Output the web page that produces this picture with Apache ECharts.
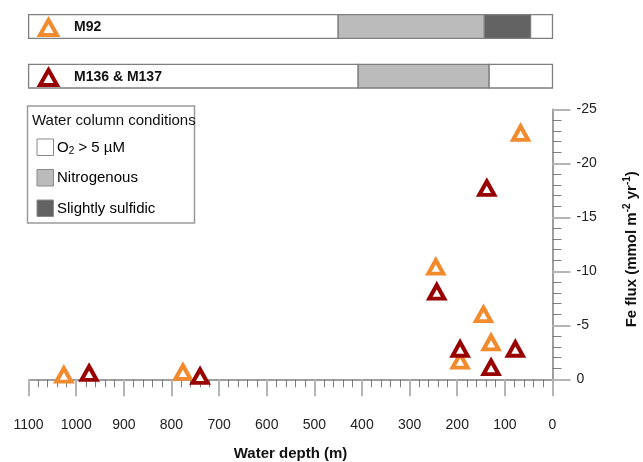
<!DOCTYPE html>
<html>
<head>
<meta charset="utf-8">
<script src="https://cdn.jsdelivr.net/npm/echarts@6/dist/echarts.min.js"></script>
<style>
  html, body { margin: 0; padding: 0; background: #fff; }
  #chart { width: 643px; height: 462px; }
</style>
</head>
<body>
<div id="chart"></div>
<script>
// Benthic Fe flux versus water depth for two cruise campaigns
const m92Depth  = [1026, 776, 67, 245, 145, 129, 194];
const m92Flux   = [-0.40, -0.66, -22.8, -10.4, -6.0, -3.4, -1.7];
const m136Depth = [973, 740, 138, 243, 194, 78, 129];
const m136Flux  = [-0.56, -0.29, -17.7, -8.1, -2.8, -2.8, -1.1];

// Water column redox zones per campaign: [from depth, to depth, condition index]
const conditionNames = ['{t|O}{sub|2}{t| > 5 \u00b5M}', '{t|Nitrogenous}', '{t|Slightly sulfidic}'];
const m92Zones  = [[1100, 450, 0], [450, 143, 1], [143, 46, 2], [46, 0, 0]];
const m136Zones = [[1100, 408, 0], [408, 133, 1], [133, 0, 0]];

// Axis ticks
const depthRange = [0, 1100];
const fluxMajorTicks = [-25, -20, -15, -10, -5, 0];

const ORANGE = '#f28a2e';
const DARKRED = '#990000';
const conditionColors = ['#ffffff', '#bbbbbb', '#636363'];
const FONT = 'Liberation Sans, Arial, sans-serif';

const fluxMinorTicks = [];
for (let v = -25; v <= 0; v++) if (fluxMajorTicks.indexOf(v) < 0) fluxMinorTicks.push(v);

const chart = echarts.init(document.getElementById('chart'), null, { renderer: 'canvas' });

function zoneRenderer(zones) {
  return function (params, api) {
    const z = zones[params.dataIndex];
    const a = api.coord([z[0], 0]);
    const b = api.coord([z[1], 0]);
    const cs = params.coordSys;
    return {
      type: 'rect',
      shape: { x: Math.min(a[0], b[0]), y: cs.y, width: Math.abs(b[0] - a[0]), height: cs.height },
      style: { fill: conditionColors[z[2]], stroke: '#7f7f7f', lineWidth: 1.3 }
    };
  };
}

const plotLeft = 28.6, plotRight = 90.5;

const hiddenX = (gi) => ({
  gridIndex: gi, type: 'value', inverse: true, min: depthRange[0], max: depthRange[1],
  show: false
});
const hiddenY = (gi) => ({ gridIndex: gi, type: 'value', min: 0, max: 1, show: false });

const cruiseLegend = (name, color, top) => ({
  data: [name], left: 38, top: top, padding: 0, selectedMode: false,
  icon: 'triangle', itemWidth: 17, itemHeight: 15,
  itemStyle: { color: '#fff', borderColor: color, borderWidth: 4 },
  textStyle: { fontFamily: FONT, fontSize: 14, fontWeight: 'bold', color: '#111', padding: [0, 0, 0, 12] }
});

const legendRich = {
  t: { fontFamily: FONT, fontSize: 15, color: '#111', lineHeight: 18 },
  sub: { fontFamily: FONT, fontSize: 10, color: '#111', lineHeight: 18, padding: [8, 0, 0, 0] }
};

const option = {
  animation: false,
  backgroundColor: '#fff',
  grid: [
    { left: plotLeft, right: plotRight, top: 109.3, bottom: 72.7, outerBoundsMode: 'none', containLabel: false },
    { left: plotLeft, right: plotRight, top: 14.7, height: 23.7, outerBoundsMode: 'none' },
    { left: plotLeft, right: plotRight, top: 64.3, height: 23.7, outerBoundsMode: 'none' }
  ],
  legend: [
    cruiseLegend('M92', ORANGE, 18),
    cruiseLegend('M136 & M137', DARKRED, 68)
  ],
  xAxis: [
    {
      gridIndex: 0, type: 'value', inverse: true, min: depthRange[0], max: depthRange[1], interval: 100,
      name: 'Water depth (m)', nameLocation: 'middle', nameGap: 57,
      nameTextStyle: { fontFamily: FONT, fontSize: 15, fontWeight: 'bold', color: '#111' },
      axisLine: { show: true, lineStyle: { color: '#7f7f7f', width: 1.5 } },
      axisTick: { show: true, length: 17, lineStyle: { color: '#b5b5b5', width: 2 } },
      minorTick: { show: true, splitNumber: 5, length: 8, lineStyle: { color: '#7f7f7f', width: 1 } },
      splitLine: { show: false },
      axisLabel: { margin: 29, fontFamily: FONT, fontSize: 14, color: '#222', formatter: v => String(v) }
    },
    hiddenX(1),
    hiddenX(2)
  ],
  yAxis: [
    {
      gridIndex: 0, type: 'value', position: 'right', inverse: true, min: -25, max: 0.93,
      name: '{b|Fe flux (mmol m}{s|-2}{b| yr}{s|-1}{b|)}',
      nameLocation: 'middle', nameRotate: 90, nameGap: 70,
      nameTextStyle: {
        rich: {
          b: { fontFamily: FONT, fontSize: 15, fontWeight: 'bold', color: '#111', lineHeight: 18 },
          s: { fontFamily: FONT, fontSize: 10, fontWeight: 'bold', color: '#111', lineHeight: 18, padding: [0, 0, 8, 0] }
        }
      },
      axisLine: { show: true, lineStyle: { color: '#7f7f7f', width: 1.5 } },
      axisTick: { show: true, length: 18, customValues: fluxMajorTicks, lineStyle: { color: '#b5b5b5', width: 2 } },
      splitLine: { show: false },
      axisLabel: { margin: 24, customValues: fluxMajorTicks, fontFamily: FONT, fontSize: 14, color: '#222' }
    },
    {
      gridIndex: 0, type: 'value', position: 'right', inverse: true, min: -25, max: 0.93,
      axisLine: { show: false },
      axisTick: { show: true, length: 9, customValues: fluxMinorTicks, lineStyle: { color: '#7f7f7f', width: 1 } },
      splitLine: { show: false },
      axisLabel: { show: false }
    },
    hiddenY(1),
    hiddenY(2)
  ],
  graphic: [
    { type: 'rect', shape: { x: 27.5, y: 106, width: 167, height: 117 },
      style: { fill: '#fff', stroke: '#9a9a9a', lineWidth: 1.5 }, z: 10 },
    { type: 'text', style: { x: 32, y: 121, text: 'Water column conditions', verticalAlign: 'middle',
      font: '15px ' + FONT, fill: '#111' }, z: 11 }
  ].concat(conditionNames.flatMap((name, i) => [
    { type: 'rect', shape: { x: 37, y: 139 + i * 30.5, width: 16.5, height: 16.5 },
      style: { fill: conditionColors[i], stroke: '#8a8a8a', lineWidth: 1 }, z: 11 },
    { type: 'text', style: { x: 57, y: 147.5 + i * 30.5, text: name, verticalAlign: 'middle',
      rich: legendRich }, z: 11 }
  ])),
  series: [
    {
      type: 'custom', name: 'M92 zones', xAxisIndex: 1, yAxisIndex: 2,
      renderItem: zoneRenderer(m92Zones), data: m92Zones.map(z => [z[0], z[1]]), silent: true
    },
    {
      type: 'custom', name: 'M136 zones', xAxisIndex: 2, yAxisIndex: 3,
      renderItem: zoneRenderer(m136Zones), data: m136Zones.map(z => [z[0], z[1]]), silent: true
    },
    {
      type: 'scatter', name: 'M92', xAxisIndex: 0, yAxisIndex: 0,
      data: m92Depth.map((d, i) => [d, m92Flux[i]]),
      symbol: 'triangle', symbolSize: [15, 13.5],
      itemStyle: { color: '#fff', borderColor: ORANGE, borderWidth: 4, opacity: 1 }, z: 3
    },
    {
      type: 'scatter', name: 'M136 & M137', xAxisIndex: 0, yAxisIndex: 0,
      data: m136Depth.map((d, i) => [d, m136Flux[i]]),
      symbol: 'triangle', symbolSize: [15, 13.5],
      itemStyle: { color: '#fff', borderColor: DARKRED, borderWidth: 4, opacity: 1 }, z: 4
    }
  ]
};

chart.setOption(option);
</script>
</body>
</html>
